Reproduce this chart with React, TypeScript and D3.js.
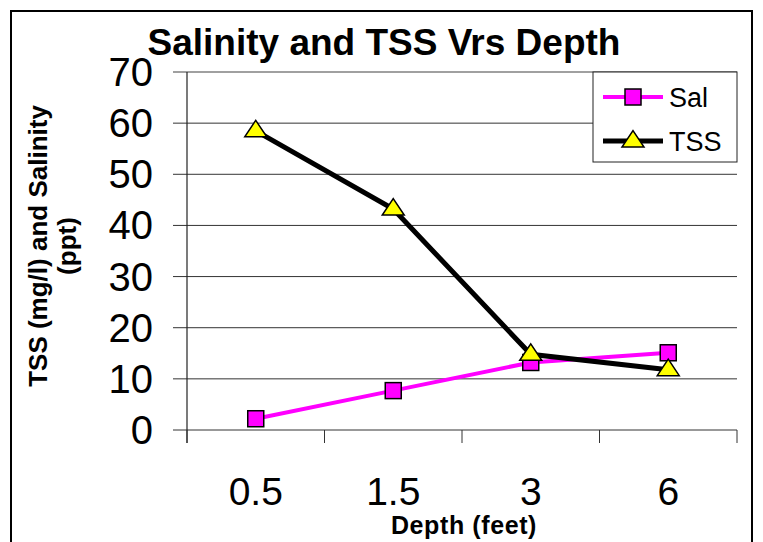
import { useEffect, useRef } from "react";
import * as d3 from "d3";

// chart data
const depths = ["0.5", "1.5", "3", "6"];
const salinity = [2.2, 7.7, 13.2, 15.1];
const tss = [58.5, 43.2, 14.8, 11.8];
const yTicks = [0, 10, 20, 30, 40, 50, 60, 70];

const FONT = "'Liberation Sans', Arial, sans-serif";

export default function App() {
  const svgRef = useRef<SVGSVGElement>(null);

  useEffect(() => {
    const width = 763;
    const height = 542;
    const svg = d3.select(svgRef.current).attr("width", width).attr("height", height);
    svg.selectAll("*").remove();

    // plot area
    const left = 187;
    const right = 737;
    const top = 72;
    const bottom = 430;

    const xScale = d3.scaleBand<string>().domain(depths).range([left, right]);
    const yScale = d3.scaleLinear().domain([0, 70]).range([bottom, top]);

    // outer frame
    svg
      .append("rect")
      .attr("x", 11)
      .attr("y", 11)
      .attr("width", 741)
      .attr("height", 560)
      .attr("fill", "white")
      .attr("stroke", "black")
      .attr("stroke-width", 2);

    // title
    svg
      .append("text")
      .attr("x", 384)
      .attr("y", 55)
      .attr("text-anchor", "middle")
      .attr("font-family", FONT)
      .attr("font-weight", "bold")
      .attr("font-size", 37)
      .text("Salinity and TSS Vrs Depth");

    // grid lines
    svg
      .append("g")
      .selectAll("line")
      .data(yTicks)
      .join("line")
      .attr("x1", left - 14)
      .attr("x2", right)
      .attr("y1", (d) => yScale(d))
      .attr("y2", (d) => yScale(d))
      .attr("stroke", (d) => (d === 70 ? "#808080" : "#333"))
      .attr("stroke-width", (d) => (d === 70 ? 1.5 : 1));

    // y axis line
    svg
      .append("line")
      .attr("x1", left)
      .attr("x2", left)
      .attr("y1", top)
      .attr("y2", bottom + 13)
      .attr("stroke", "#222")
      .attr("stroke-width", 1.2);

    // x tick marks at band edges
    const edges = depths.map((d) => xScale(d) as number).concat([right]);
    svg
      .append("g")
      .selectAll("line")
      .data(edges)
      .join("line")
      .attr("x1", (d) => d)
      .attr("x2", (d) => d)
      .attr("y1", bottom)
      .attr("y2", bottom + 13)
      .attr("stroke", "#333")
      .attr("stroke-width", 1);

    // y tick labels
    svg
      .append("g")
      .selectAll("text")
      .data(yTicks)
      .join("text")
      .attr("x", 153)
      .attr("y", (d) => yScale(d) + 14)
      .attr("text-anchor", "end")
      .attr("font-family", FONT)
      .attr("font-size", 40)
      .text((d) => d);

    // x tick labels
    svg
      .append("g")
      .selectAll("text")
      .data(depths)
      .join("text")
      .attr("x", (d) => (xScale(d) as number) + xScale.bandwidth() / 2)
      .attr("y", 505)
      .attr("text-anchor", "middle")
      .attr("font-family", FONT)
      .attr("font-size", 39)
      .text((d) => d);

    // axis titles
    svg
      .append("text")
      .attr("x", 464)
      .attr("y", 534)
      .attr("text-anchor", "middle")
      .attr("font-family", FONT)
      .attr("font-weight", "bold")
      .attr("font-size", 25)
      .attr("letter-spacing", 0.6)
      .text("Depth (feet)");

    const yTitle = svg
      .append("text")
      .attr("transform", "translate(47,246) rotate(-90)")
      .attr("text-anchor", "middle")
      .attr("font-family", FONT)
      .attr("font-weight", "bold")
      .attr("font-size", 26);
    yTitle.append("tspan").attr("x", 0).attr("y", 0).text("TSS (mg/l) and Salinity");
    yTitle.append("tspan").attr("x", 0).attr("y", 29).text("(ppt)");

    const cx = (i: number) => (xScale(depths[i]) as number) + xScale.bandwidth() / 2;

    const line = d3
      .line<number>()
      .x((_, i) => cx(i))
      .y((d) => yScale(d));

    const triangle = (x: number, y: number, s: number) =>
      `M${x},${y - s * 0.95}L${x + s},${y + s * 0.55}L${x - s},${y + s * 0.55}Z`;

    // salinity series
    svg
      .append("path")
      .datum(salinity)
      .attr("d", line)
      .attr("fill", "none")
      .attr("stroke", "#ff00ff")
      .attr("stroke-width", 4);

    svg
      .append("g")
      .selectAll("rect")
      .data(salinity)
      .join("rect")
      .attr("x", (_, i) => cx(i) - 8)
      .attr("y", (d) => yScale(d) - 8)
      .attr("width", 16)
      .attr("height", 16)
      .attr("fill", "#ff00ff")
      .attr("stroke", "black")
      .attr("stroke-width", 1.5);

    // tss series
    svg
      .append("path")
      .datum(tss)
      .attr("d", line)
      .attr("fill", "none")
      .attr("stroke", "black")
      .attr("stroke-width", 5);

    svg
      .append("g")
      .selectAll("path")
      .data(tss)
      .join("path")
      .attr("d", (d, i) => triangle(cx(i), yScale(d), 11))
      .attr("fill", "#ffff00")
      .attr("stroke", "black")
      .attr("stroke-width", 1.5);

    // legend
    const legend = svg.append("g");
    legend
      .append("rect")
      .attr("x", 593)
      .attr("y", 72)
      .attr("width", 144)
      .attr("height", 90)
      .attr("fill", "white")
      .attr("stroke", "#222")
      .attr("stroke-width", 1);

    const rows = [
      { name: "Sal", y: 97 },
      { name: "TSS", y: 141 },
    ];
    legend
      .selectAll("line")
      .data(rows)
      .join("line")
      .attr("x1", 603)
      .attr("x2", 663)
      .attr("y1", (d) => d.y)
      .attr("y2", (d) => d.y)
      .attr("stroke", (d) => (d.name === "Sal" ? "#ff00ff" : "black"))
      .attr("stroke-width", (d) => (d.name === "Sal" ? 4 : 5));
    legend
      .append("rect")
      .attr("x", 625)
      .attr("y", 89)
      .attr("width", 16)
      .attr("height", 16)
      .attr("fill", "#ff00ff")
      .attr("stroke", "black")
      .attr("stroke-width", 1.5);
    legend
      .append("path")
      .attr("d", triangle(633, 141, 11))
      .attr("fill", "#ffff00")
      .attr("stroke", "black")
      .attr("stroke-width", 1.5);
    legend
      .selectAll("text")
      .data(rows)
      .join("text")
      .attr("x", 669)
      .attr("y", (d) => d.y + 10)
      .attr("font-family", FONT)
      .attr("font-size", 27)
      .text((d) => d.name);
  }, []);

  return (
    <svg
      ref={svgRef}
      style={{ position: "absolute", left: 0, top: 0, background: "white" }}
    ></svg>
  );
}
